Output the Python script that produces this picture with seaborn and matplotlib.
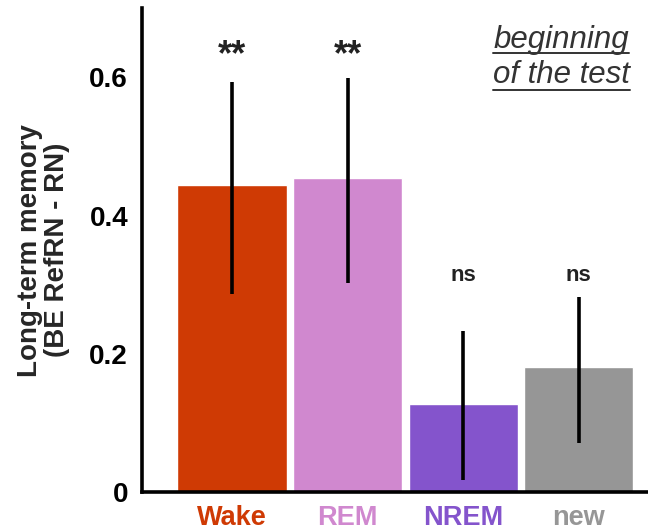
import matplotlib
matplotlib.use("Agg")
import matplotlib.pyplot as plt
import seaborn as sns
import pandas as pd
import numpy as np

# Data
conditions = ["Wake", "REM", "NREM", "new"]
memory = [0.444, 0.454, 0.128, 0.181]
ci_low = [0.287, 0.302, 0.018, 0.071]
ci_high = [0.593, 0.599, 0.233, 0.282]
significance = ["**", "**", "ns", "ns"]
colors = ["#cf3a04", "#d088cf", "#8454cc", "#969696"]
yticks = [0, 0.2, 0.4, 0.6]
ytick_labels = ["0", "0.2", "0.4", "0.6"]

sns.set_theme(style="white")
plt.rcParams["font.family"] = ["Liberation Sans", "DejaVu Sans"]

df = pd.DataFrame({"condition": conditions, "memory": memory})

fig = plt.figure(figsize=(6.48, 5.32), dpi=100)
ax = fig.add_axes([0.219, 0.0743, 0.781, 0.911])

sns.barplot(data=df, x="condition", y="memory", hue="condition",
            palette=colors, order=conditions, hue_order=conditions,
            width=0.945, saturation=1, legend=False, ax=ax, errorbar=None)

x = np.arange(len(conditions))
mem = np.array(memory)
yerr = np.vstack([mem - np.array(ci_low), np.array(ci_high) - mem])
ax.errorbar(x, mem, yerr=yerr, fmt="none", ecolor="black", elinewidth=2.6, capsize=0)

# Significance marks above each bar
for xi, lab in zip(x, significance):
    if lab == "**":
        ax.text(xi, 0.617, lab, ha="center", va="baseline", fontsize=26,
                fontweight="bold", color="#222222")
    else:
        ax.text(xi, 0.305, lab, ha="center", va="baseline", fontsize=16,
                fontweight="bold", color="#222222")

ax.set_xlim(-0.78, 3.6)
ax.set_ylim(0, 0.7)
ax.set_yticks(yticks)
ax.set_yticklabels(ytick_labels, fontsize=20, fontweight="bold")
ax.set_xlabel("")
ax.set_ylabel("Long-term memory\n(BE RefRN - RN)", fontsize=20, fontweight="bold",
              labelpad=14, linespacing=1.05)
ax.set_xticks(x)
ax.set_xticklabels(conditions, fontsize=19.5, fontweight="bold")
for t, c in zip(ax.get_xticklabels(), colors):
    t.set_color(c)

for side in ["top", "right"]:
    ax.spines[side].set_visible(False)
for side in ["left", "bottom"]:
    ax.spines[side].set_linewidth(2.6)
    ax.spines[side].set_color("black")
ax.tick_params(axis="y", direction="in", length=3, width=2, pad=10, colors="black")
ax.tick_params(axis="x", length=0, pad=9)
for t in ax.get_yticklabels():
    t.set_color("black")

# Italic underlined annotation in the upper right
t1 = ax.text(0.962, 0.917, "beginning", transform=ax.transAxes, ha="right",
             va="baseline", fontsize=22.5, fontstyle="italic", color="#333333")
t2 = ax.text(0.965, 0.845, "of the test", transform=ax.transAxes, ha="right",
             va="baseline", fontsize=22.5, fontstyle="italic", color="#333333")
fig.canvas.draw()
renderer = fig.canvas.get_renderer()
inv = ax.transAxes.inverted()
for t, yline in ((t1, 0.906), (t2, 0.830)):
    bb = t.get_window_extent(renderer)
    (x0, _), (x1, _) = inv.transform([[bb.x0, bb.y0], [bb.x1, bb.y1]])
    ax.plot([x0, x1], [yline, yline], transform=ax.transAxes,
            color="#333333", lw=1.4, clip_on=False)

fig.savefig("out.png", dpi=100)
